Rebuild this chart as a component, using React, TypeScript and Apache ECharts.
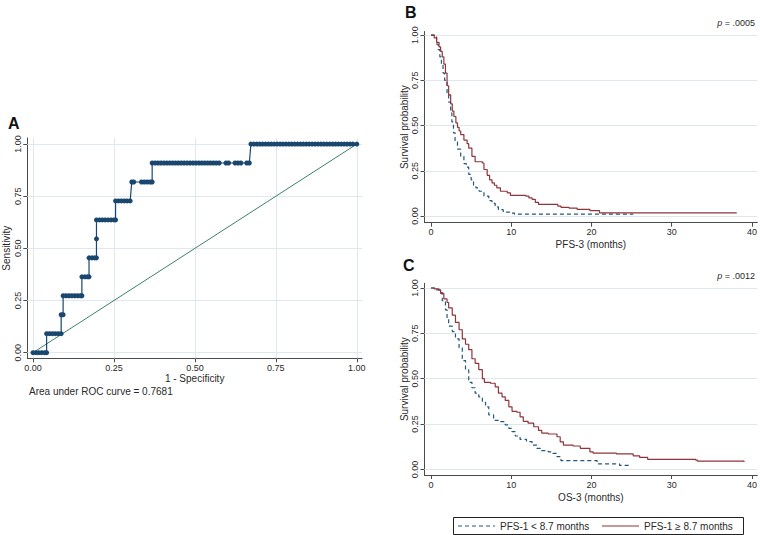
import React, { useEffect, useRef } from "react";
import * as echarts from "echarts";

// ---------- Panel A: ROC curve ----------
const rocSens = [0, 0.0909, 0.1818, 0.2727, 0.3636, 0.4545, 0.5455, 0.6364, 0.7273, 0.8182, 0.9091, 1];
const rocFpr = [
  [0, 0.009, 0.018, 0.027, 0.036, 0.042],
  [0.042, 0.051, 0.06, 0.069, 0.078, 0.087],
  [0.087, 0.093],
  [0.093, 0.102, 0.111, 0.12, 0.129, 0.138, 0.147, 0.151],
  [0.151, 0.16, 0.168, 0.173],
  [0.173, 0.182, 0.19, 0.196],
  [0.196],
  [0.196, 0.205, 0.214, 0.223, 0.232, 0.241, 0.25, 0.255],
  [0.255, 0.264, 0.273, 0.282, 0.291, 0.3],
  [0.305, 0.311, 0.335, 0.344, 0.353, 0.362, 0.368],
  [0.368, 0.377, 0.386, 0.395, 0.404, 0.413, 0.422, 0.431, 0.44, 0.449, 0.458, 0.467, 0.476, 0.485, 0.494, 0.503, 0.512, 0.521, 0.53, 0.539, 0.548, 0.557, 0.566, 0.575, 0.596, 0.604, 0.624, 0.633, 0.642, 0.66, 0.668],
  [0.673, 0.682, 0.691, 0.7, 0.709, 0.718, 0.727, 0.736, 0.745, 0.754, 0.763, 0.772, 0.781, 0.79, 0.799, 0.808, 0.817, 0.826, 0.835, 0.844, 0.853, 0.862, 0.871, 0.88, 0.889, 0.898, 0.907, 0.916, 0.925, 0.934, 0.943, 0.952, 0.961, 0.97, 0.979, 0.988, 1],
];
const rocRefX = [0, 1];
const rocRefY = [0, 1];
const rocTicks = [0, 0.25, 0.5, 0.75, 1];
const aucText = "Area under ROC curve = 0.7681";

// ---------- Panel B: PFS-3 ----------
const pfsLowT = [0, 0.4, 0.7, 0.9, 1.1, 1.3, 1.5, 1.7, 2.0, 2.2, 2.45, 2.6, 2.8, 3.0, 3.3, 3.7, 4.1, 4.4, 4.7, 5.0, 5.3, 5.6, 6.0, 6.6, 7.2, 7.6, 8.0, 8.4, 9.0, 9.8, 10.4, 25.2];
const pfsLowS = [1, 0.99, 0.95, 0.92, 0.88, 0.84, 0.79, 0.75, 0.68, 0.63, 0.57, 0.52, 0.46, 0.41, 0.37, 0.33, 0.29, 0.27, 0.23, 0.2, 0.17, 0.155, 0.137, 0.11, 0.085, 0.07, 0.05, 0.035, 0.022, 0.016, 0.01, 0.01];
const pfsHighT = [0, 0.4, 0.7, 1.0, 1.2, 1.4, 1.6, 1.8, 2.0, 2.2, 2.45, 2.65, 2.85, 3.1, 3.3, 3.5, 3.7, 4.1, 4.5, 4.7, 5.1, 5.5, 6.4, 6.6, 7.0, 7.3, 7.6, 7.9, 8.2, 8.65, 9.5, 9.9, 11.8, 12.2, 12.6, 13.0, 13.4, 15.8, 16.2, 17.2, 18.2, 19.8, 21.0, 38.1];
const pfsHighS = [1, 0.985, 0.96, 0.935, 0.91, 0.88, 0.84, 0.79, 0.72, 0.67, 0.62, 0.58, 0.55, 0.515, 0.49, 0.47, 0.45, 0.42, 0.4, 0.375, 0.33, 0.3, 0.293, 0.257, 0.225, 0.2, 0.183, 0.17, 0.156, 0.137, 0.128, 0.114, 0.11, 0.1, 0.092, 0.075, 0.064, 0.055, 0.048, 0.044, 0.037, 0.03, 0.017, 0.017];
const pfsP = ".0005";

// ---------- Panel C: OS-3 ----------
const osLowT = [0, 0.5, 1.0, 1.4, 1.8, 2.0, 2.2, 2.65, 3.05, 3.5, 3.9, 4.3, 4.7, 5.1, 5.5, 5.95, 6.4, 6.8, 7.2, 7.8, 8.6, 9.25, 9.7, 10.1, 10.5, 11.1, 11.9, 12.6, 13.2, 13.6, 14.6, 15.2, 15.7, 16.2, 20.7, 23.5, 25.0];
const osLowS = [1, 0.99, 0.975, 0.93, 0.88, 0.83, 0.79, 0.76, 0.72, 0.67, 0.6, 0.55, 0.48, 0.45, 0.42, 0.4, 0.37, 0.345, 0.3, 0.27, 0.263, 0.245, 0.226, 0.208, 0.184, 0.165, 0.153, 0.134, 0.116, 0.103, 0.097, 0.088, 0.07, 0.048, 0.03, 0.022, 0.022];
const osHighT = [0, 0.4, 1.0, 1.2, 1.6, 2.0, 2.2, 2.65, 3.05, 3.5, 3.9, 4.3, 4.7, 5.1, 5.5, 5.95, 6.4, 6.65, 7.4, 8.0, 8.4, 8.85, 9.25, 9.7, 10.1, 10.7, 11.1, 11.5, 12.1, 12.8, 13.4, 13.8, 14.6, 15.7, 16.1, 16.5, 17.7, 18.6, 19.8, 20.2, 23.1, 25.2, 26.0, 27.0, 33.0, 33.2, 39.0];
const osHighS = [1, 0.995, 0.99, 0.97, 0.94, 0.92, 0.89, 0.85, 0.81, 0.77, 0.72, 0.69, 0.66, 0.61, 0.585, 0.55, 0.5, 0.48, 0.475, 0.455, 0.42, 0.4, 0.38, 0.345, 0.32, 0.315, 0.29, 0.265, 0.255, 0.235, 0.215, 0.2, 0.195, 0.18, 0.152, 0.134, 0.129, 0.116, 0.097, 0.09, 0.085, 0.075, 0.066, 0.055, 0.051, 0.046, 0.04];
const osP = ".0012";

const kmXTicks = [0, 10, 20, 30, 40];
const kmYTicks = [0, 0.25, 0.5, 0.75, 1];
const groupNames = ["PFS-1 < 8.7 months", "PFS-1 \u2265 8.7 months"];

const FONT = "'Liberation Sans', Arial, Helvetica, sans-serif";
const NAVY = "#1a476f";
const MAROON = "#90353b";
const KMBLUE = "#24567e";
const GREEN = "#3f7f6c";
const AXIS = "#4a4a4a";
const GRID = "#dfe9ed";
const LABEL = "#2a2a2a";

const zip = (a: number[], b: number[]) => a.map((v, i) => [v, b[i]]);

function makeAxis(o: any) {
  return {
    type: "value",
    gridIndex: o.grid,
    min: o.min,
    max: o.max,
    name: o.name,
    nameLocation: "middle",
    nameGap: o.nameGap,
    nameTextStyle: { fontSize: 10, color: LABEL, fontFamily: FONT },
    axisLine: { show: true, onZero: false, lineStyle: { color: AXIS, width: 1 } },
    axisTick: { show: true, customValues: o.ticks, length: 4, lineStyle: { color: AXIS, width: 1 } },
    axisLabel: {
      customValues: o.ticks,
      formatter: o.fmt,
      fontSize: 9,
      color: LABEL,
      fontFamily: FONT,
      margin: 5,
      rotate: o.rotate || 0,
    },
    splitLine: { show: false },
  };
}

function gridLines(vals: number[], dim: "xAxis" | "yAxis") {
  return vals.map((v) => ({ [dim]: v }));
}

function gridMark(data: any[]) {
  return {
    silent: true,
    symbol: ["none", "none"],
    z: 1,
    label: { show: false },
    emphasis: { disabled: true },
    lineStyle: { type: "solid", color: GRID, width: 1 },
    data,
  };
}

export default function App() {
  const ref = useRef<HTMLDivElement>(null);
  useEffect(() => {
    if (!ref.current) return;
    const chart = echarts.init(ref.current, undefined, { renderer: "svg" });
    const rocData: number[][] = [];
    rocFpr.forEach((xs, i) => xs.forEach((x) => rocData.push([x, rocSens[i]])));
    const f2 = (v: number) => v.toFixed(2);
    const f0 = (v: number) => String(v);

    const legendY = 526;
    const option: any = {
      animation: false,
      textStyle: { fontFamily: FONT },
      grid: [
        { left: 27.3, top: 138, width: 334.7, height: 220.3 },
        { left: 424.5, top: 31.5, width: 333.8, height: 191.2 },
        { left: 424.5, top: 283.3, width: 333.8, height: 191.7 },
      ],
      xAxis: [
        makeAxis({ grid: 0, min: -0.0176, max: 1.016, ticks: rocTicks, fmt: f2, name: "1 - Specificity", nameGap: 15 }),
        makeAxis({ grid: 1, min: -0.81, max: 40.66, ticks: kmXTicks, fmt: f0, name: "PFS-3 (months)", nameGap: 17 }),
        makeAxis({ grid: 2, min: -0.81, max: 40.66, ticks: kmXTicks, fmt: f0, name: "OS-3 (months)", nameGap: 17 }),
      ],
      yAxis: [
        makeAxis({ grid: 0, min: -0.027, max: 1.029, ticks: rocTicks, fmt: f2, name: "Sensitivity", nameGap: 16, rotate: 90 }),
        makeAxis({ grid: 1, min: -0.037, max: 1.02, ticks: kmYTicks, fmt: f2, name: "Survival probability", nameGap: 15, rotate: 90 }),
        makeAxis({ grid: 2, min: -0.031, max: 1.026, ticks: kmYTicks, fmt: f2, name: "Survival probability", nameGap: 15, rotate: 90 }),
      ],
      series: [
        {
          type: "line",
          name: "Reference",
          xAxisIndex: 0,
          yAxisIndex: 0,
          data: zip(rocRefX, rocRefY),
          showSymbol: false,
          symbol: "none",
          lineStyle: { color: GREEN, width: 1 },
          z: 2,
          markLine: gridMark([...gridLines(rocTicks, "xAxis"), ...gridLines(rocTicks, "yAxis")]),
        },
        {
          type: "line",
          name: "ROC",
          xAxisIndex: 0,
          yAxisIndex: 0,
          data: rocData,
          symbol: "circle",
          symbolSize: 5,
          itemStyle: { color: NAVY },
          lineStyle: { color: NAVY, width: 1.2 },
          z: 3,
        },
        {
          type: "line",
          name: groupNames[0],
          xAxisIndex: 1,
          yAxisIndex: 1,
          step: "end",
          data: zip(pfsLowT, pfsLowS),
          symbol: "none",
          itemStyle: { color: KMBLUE },
          lineStyle: { color: KMBLUE, width: 1.2, type: [4, 3] },
          z: 3,
          markLine: gridMark(gridLines(kmYTicks, "yAxis")),
        },
        {
          type: "line",
          name: groupNames[1],
          xAxisIndex: 1,
          yAxisIndex: 1,
          step: "end",
          data: zip(pfsHighT, pfsHighS),
          symbol: "none",
          itemStyle: { color: MAROON },
          lineStyle: { color: MAROON, width: 1.2 },
          z: 3,
        },
        {
          type: "line",
          name: groupNames[0],
          xAxisIndex: 2,
          yAxisIndex: 2,
          step: "end",
          data: zip(osLowT, osLowS),
          symbol: "none",
          itemStyle: { color: KMBLUE },
          lineStyle: { color: KMBLUE, width: 1.2, type: [4, 3] },
          z: 3,
          markLine: gridMark(gridLines(kmYTicks, "yAxis")),
        },
        {
          type: "line",
          name: groupNames[1],
          xAxisIndex: 2,
          yAxisIndex: 2,
          step: "end",
          data: zip(osHighT, osHighS),
          symbol: "none",
          itemStyle: { color: MAROON },
          lineStyle: { color: MAROON, width: 1.2 },
          z: 3,
        },
      ],
      graphic: [
        { type: "text", x: 8, y: 115, style: { text: "A", fontSize: 16, fontWeight: "bold", fontFamily: FONT, fill: "#111" } },
        { type: "text", x: 405, y: 4, style: { text: "B", fontSize: 16, fontWeight: "bold", fontFamily: FONT, fill: "#111" } },
        { type: "text", x: 403, y: 257, style: { text: "C", fontSize: 16, fontWeight: "bold", fontFamily: FONT, fill: "#111" } },
        { type: "text", x: 29, y: 386, style: { text: aucText, fontSize: 10, fontFamily: FONT, fill: LABEL } },
        {
          type: "text", x: 755, y: 18,
          style: { text: "{i|p} = " + pfsP, align: "right", fontSize: 9, fontFamily: FONT, fill: LABEL, rich: { i: { fontStyle: "italic", fontSize: 9, fontFamily: FONT, fill: LABEL } } },
        },
        {
          type: "text", x: 755, y: 271,
          style: { text: "{i|p} = " + osP, align: "right", fontSize: 9, fontFamily: FONT, fill: LABEL, rich: { i: { fontStyle: "italic", fontSize: 9, fontFamily: FONT, fill: LABEL } } },
        },
        // legend
        { type: "rect", shape: { x: 453.5, y: 517.5, width: 290, height: 17 }, style: { fill: "#fff", stroke: "#222", lineWidth: 1 } },
        { type: "line", shape: { x1: 458, y1: legendY, x2: 495, y2: legendY }, style: { stroke: KMBLUE, lineWidth: 1.2, lineDash: [4, 3] } },
        { type: "text", x: 500, y: legendY, style: { text: groupNames[0], fontSize: 10, fontFamily: FONT, fill: LABEL, verticalAlign: "middle" } },
        { type: "line", shape: { x1: 602, y1: legendY, x2: 639, y2: legendY }, style: { stroke: MAROON, lineWidth: 1.2 } },
        { type: "text", x: 644, y: legendY, style: { text: groupNames[1], fontSize: 10, fontFamily: FONT, fill: LABEL, verticalAlign: "middle" } },
      ],
    };
    chart.setOption(option);
    return () => chart.dispose();
  }, []);
  return <div ref={ref} style={{ position: "absolute", left: 0, top: 0, width: 760, height: 535, background: "#fff" }} />;
}
